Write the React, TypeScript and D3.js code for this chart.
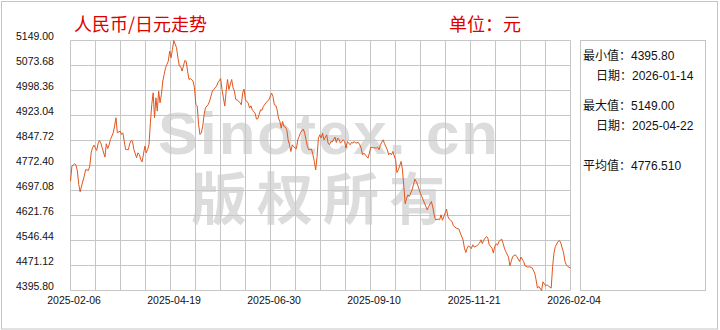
import React from "react";
import * as d3 from "d3";

// ---------- data ----------
const startDate = "2025-02-06";
const endDate = "2026-02-04";
// days since startDate
const dayOffsets = [
  0, 1, 3, 4, 5, 6, 7, 8, 10, 11, 13, 14, 15, 16, 17, 19, 20, 21, 22, 23,
  25, 26, 27, 28, 29, 31, 32, 33, 34, 36, 37, 38, 39, 40, 42, 43, 44, 45, 46, 48,
  49, 50, 51, 52, 54, 55, 56, 57, 58, 59, 60, 61, 62, 63, 64, 65, 66, 67, 68, 69,
  70, 71, 72, 73, 74, 75, 77, 78, 79, 80, 81, 83, 84, 85, 86, 87, 89, 90, 91, 92,
  93, 94, 95, 96, 97, 98, 100, 101, 102, 103, 104, 106, 107, 109, 110, 111, 112, 113, 114, 115,
  117, 118, 119, 120, 121, 123, 124, 125, 126, 127, 129, 130, 131, 132, 134, 135, 136, 138, 139, 140,
  142, 144, 146, 147, 148, 149, 150, 151, 152, 153, 154, 155, 156, 157, 158, 159, 160, 161, 163, 164,
  165, 166, 167, 169, 170, 171, 172, 173, 175, 176, 177, 178, 179, 180, 181, 182, 183, 184, 186, 187,
  188, 189, 190, 192, 193, 194, 195, 196, 198, 199, 200, 201, 203, 204, 205, 206, 207, 209, 210, 211,
  212, 213, 215, 216, 217, 218, 220, 222, 223, 224, 225, 227, 228, 230, 231, 232, 233, 234, 236, 237,
  238, 240, 241, 242, 243, 244, 245, 246, 248, 249, 250, 251, 252, 254, 255, 256, 257, 258, 259, 260,
  262, 263, 264, 265, 267, 268, 269, 270, 272, 273, 274, 275, 277, 278, 280, 282, 283, 285, 286, 287,
  288, 289, 291, 292, 293, 295, 297, 298, 299, 300, 302, 303, 304, 306, 307, 308, 309, 310, 311, 313,
  314, 315, 316, 318, 319, 320, 321, 323, 324, 325, 326, 327, 329, 330, 332, 333, 335, 337, 338, 339,
  340, 342, 343, 345, 346, 347, 349, 350, 351, 352, 354, 355, 356, 358, 359, 360, 361, 363,
];
const rates = [
  4725.4, 4770.6, 4777.5, 4773.6, 4755.5, 4715.2, 4693.2, 4710.3, 4740.5, 4760.3, 4757.3, 4770.6, 4810.7, 4825.7, 4833.9, 4817.6, 4837.8, 4847.7, 4840.8, 4825.7,
  4797.7, 4837.8, 4823.6, 4833.9, 4850.7, 4870.9, 4891.1, 4916.1, 4870.9, 4876.0, 4865.8, 4870.9, 4845.9, 4820.6, 4819.8, 4837.8, 4847.7, 4845.9, 4820.6, 4795.6,
  4810.7, 4805.5, 4790.5, 4783.5, 4830.8, 4810.7, 4820.6, 4835.7, 4901.0, 4956.2, 4991.4, 4916.1, 4976.4, 4936.3, 4996.6, 4961.3, 4986.3, 5026.7, 5046.6, 5066.8,
  5076.7, 5086.9, 5117.1, 5096.9, 5121.9, 5149.0, 5127.0, 5096.9, 5071.9, 5070.2, 5056.8, 5088.7, 5086.3, 5056.8, 5031.5, 5034.5, 5026.7, 5006.5, 4956.2, 4951.4,
  4895.9, 4865.8, 4870.9, 4891.1, 4926.1, 4946.2, 4956.2, 4966.4, 4981.5, 4996.6, 5001.4, 5011.6, 5021.6, 5034.5, 5001.4, 4976.4, 4951.4, 4996.6, 5031.5, 5001.4,
  5031.5, 5006.5, 4996.6, 4971.2, 4969.8, 4962.2, 4955.3, 4990.5, 5002.6, 4970.3, 4960.4, 4945.3, 4952.3, 4940.2, 4930.3, 4912.2, 4913.5, 4940.2, 4938.6, 4950.2,
  4962.2, 4970.3, 4990.5, 4980.3, 4955.3, 4954.1, 4940.2, 4915.2, 4905.0, 4885.1, 4905.0, 4889.9, 4888.4, 4880.0, 4849.8, 4834.8, 4814.6, 4834.8, 4824.8, 4823.1,
  4849.8, 4859.8, 4871.8, 4882.1, 4870.0, 4849.8, 4829.6, 4819.7, 4821.8, 4804.6, 4784.5, 4759.4, 4799.5, 4855.0, 4864.9, 4855.0, 4870.0, 4849.8, 4864.9, 4839.9,
  4834.8, 4844.7, 4843.2, 4858.0, 4841.7, 4855.0, 4849.8, 4839.9, 4849.8, 4844.7, 4824.8, 4844.7, 4834.8, 4841.7, 4839.9, 4844.7, 4839.9, 4841.7, 4834.8, 4824.8,
  4804.6, 4809.8, 4799.5, 4794.7, 4809.8, 4827.8, 4826.1, 4824.8, 4827.8, 4819.7, 4834.8, 4849.8, 4837.8, 4819.7, 4804.6, 4809.8, 4804.6, 4814.6, 4789.6, 4751.3,
  4759.4, 4784.5, 4759.4, 4709.1, 4657.0, 4674.2, 4684.1, 4679.0, 4699.2, 4714.3, 4731.4, 4724.2, 4714.3, 4689.2, 4679.0, 4669.1, 4659.1, 4648.9, 4638.9, 4648.9,
  4663.9, 4647.5, 4623.9, 4608.8, 4610.9, 4608.8, 4623.9, 4607.4, 4629.0, 4641.0, 4618.7, 4610.9, 4603.7, 4590.7, 4583.8, 4580.8, 4568.7, 4548.6, 4523.5, 4510.3,
  4523.5, 4530.5, 4522.0, 4533.5, 4526.6, 4530.5, 4538.6, 4548.6, 4537.2, 4547.4, 4558.5, 4553.7, 4533.5, 4523.5, 4508.5, 4528.4, 4536.5, 4532.7, 4543.4, 4550.7,
  4538.6, 4523.5, 4513.3, 4496.4, 4470.2, 4483.2, 4498.2, 4503.4, 4498.2, 4490.4, 4483.2, 4496.4, 4483.2, 4470.2, 4466.3, 4467.1, 4465.1, 4448.2, 4428.0, 4403.0,
  4407.9, 4395.8, 4422.0, 4410.0, 4413.0, 4409.2, 4403.0, 4468.1, 4508.5, 4528.4, 4543.4, 4546.4, 4538.6, 4508.5, 4483.2, 4473.2, 4468.1, 4463.3,
];
const yTicks = [5149.0, 5073.68, 4998.36, 4923.04, 4847.72, 4772.4, 4697.08, 4621.76, 4546.44, 4471.12, 4395.8];
const xTickLabels = ["2025-02-06", "2025-04-19", "2025-06-30", "2025-09-10", "2025-11-21", "2026-02-04"];
const titleText = "人民币/日元走势";
const unitText = "单位：元";
const watermarkTop = "Sinotex. cn";
const watermarkBottom = "版权所有";
const statLabels = ["最小值：", "日期：", "最大值：", "日期：", "平均值："];
const statValues = ["4395.80", "2026-01-14", "5149.00", "2025-04-22", "4776.510"];

// ---------- layout ----------
const W = 720, H = 330;
const L = 70.5, R = 570.5, T = 40.5, B = 290.5;
const FONT = "'Liberation Sans', Arial, 'Noto Sans CJK SC', sans-serif";
const CJK = "'Noto Sans CJK SC', 'Liberation Sans', sans-serif";
const GRID = "#c6c6c6";
const LINE = "#e2561c";

export default function App() {
  const parse = d3.timeParse("%Y-%m-%d");
  const s = parse(startDate)!;
  const e = parse(endDate)!;
  const data = dayOffsets.map((d, i) => ({ date: d3.timeDay.offset(s, d), v: rates[i] }));

  const x = d3.scaleTime().domain([s, e]).range([L, R]);
  const y = d3.scaleLinear().domain([d3.min(yTicks)!, d3.max(yTicks)!]).range([B, T]);
  const xl = d3.scalePoint<string>().domain(xTickLabels).range([L, R]);
  const line = d3.line<{ date: Date; v: number }>().x((d) => x(d.date)).y((d) => y(d.v));

  const vCols = d3.range(0, 21).map((i) => L + (i * (R - L)) / 20);
  const statY = [60, 80, 110, 130, 170];
  const statX = [583, 596, 583, 596, 583];

  return (
    <svg width={W} height={H} style={{ position: "absolute", left: 0, top: 0, background: "#fff" }}>
      <rect x={0} y={0} width={W} height={H} fill="#fff" />
      <rect x={1.5} y={1.5} width={716} height={327.5} fill="none" stroke="#c4c4c4" />

      {/* watermark (one text element, two lines) */}
      <text fontWeight="bold" fill="#dcdcdc">
        <tspan x={158} y={154} fontFamily="'Liberation Sans', Arial, sans-serif" fontSize={60}
          textLength={340} lengthAdjust="spacing">{watermarkTop}</tspan>
        <tspan x={191} y={219} fontFamily={CJK} fontSize={56}
          textLength={254} lengthAdjust="spacing">{watermarkBottom}</tspan>
      </text>

      {/* grid */}
      {vCols.map((gx, i) => (
        <line key={"v" + i} x1={gx} x2={gx} y1={T} y2={B} stroke={GRID} strokeWidth={1} />
      ))}
      {yTicks.map((t, i) => (
        <line key={"h" + i} x1={L} x2={R} y1={y(t)} y2={y(t)} stroke={GRID} strokeWidth={1} />
      ))}

      {/* line */}
      <path d={line(data) || ""} fill="none" stroke={LINE} strokeWidth={1} strokeLinejoin="round" />

      {/* y labels */}
      {yTicks.map((t, i) => (
        <text key={"yl" + i} x={16} y={y(t) - 1} fontFamily={FONT} fontSize={10.5} fill="#111">
          {t.toFixed(2)}
        </text>
      ))}
      {/* x labels */}
      {xTickLabels.map((lab, i) => (
        <text key={"xl" + i} x={xl(lab)! + 3.6} y={304} textAnchor="middle" fontFamily={FONT} fontSize={10.5} fill="#111">
          {lab}
        </text>
      ))}

      {/* titles */}
      <text x={74} y={31} fontFamily={CJK} fontSize={18} fill="#e00000">{titleText}</text>
      <text x={449} y={31} fontFamily={CJK} fontSize={18} fill="#e00000">{unitText}</text>

      {/* stats panel */}
      <rect x={580.5} y={40.5} width={125} height={250} fill="none" stroke="#c4c4c4" />
      {statLabels.map((lab, i) => (
        <text key={"st" + i} x={statX[i]} y={statY[i]} fontSize={12} fill="#111">
          <tspan fontFamily={CJK}>{lab}</tspan>
          <tspan fontFamily={FONT}>{statValues[i]}</tspan>
        </text>
      ))}
    </svg>
  );
}
